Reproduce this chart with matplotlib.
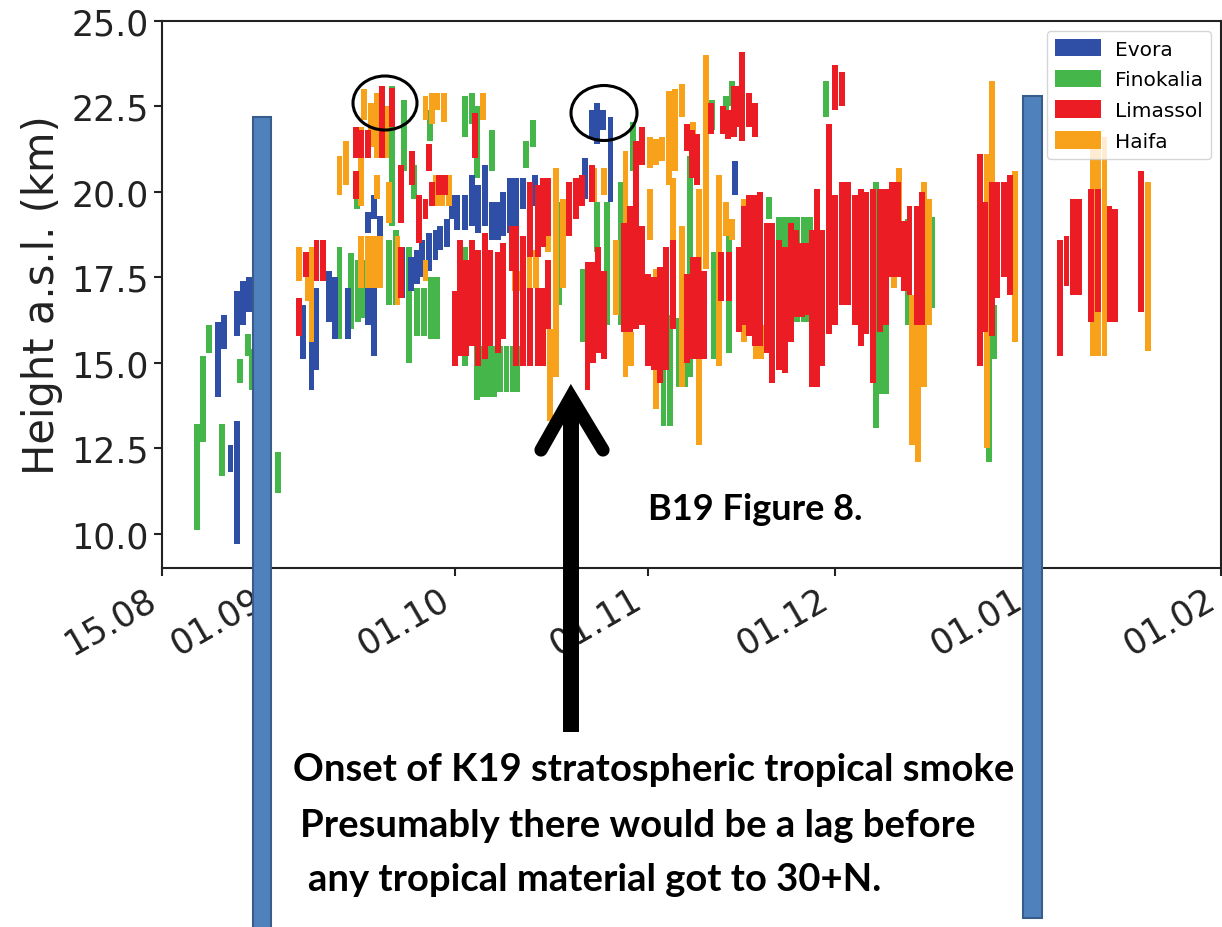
import numpy as np
import matplotlib
matplotlib.use("Agg")
import matplotlib.pyplot as plt
import matplotlib.dates as mdates
from matplotlib.patches import Rectangle, Ellipse, Patch
from matplotlib.lines import Line2D


# =========================================================
# DATA  (day = days since 15.08.2019, heights in km a.s.l.)
# =========================================================
evora_day = [9, 10, 11, 12, 12, 13, 14, 22.6, 24, 24.8, 26.8, 27.7, 29.8, 33, 34, 33, 34, 35,
             38.6, 39.9, 41, 41.8, 42.9, 43.9, 44.7, 45.7, 46.6, 47.4, 48.7, 49.7, 50.8, 51.9,
             53, 54, 54.8, 55.9, 56.9, 57.9, 59.9, 67.9, 69.1, 69.9, 70.8, 72, 92]
evora_lo = [14.0, 15.4, 11.8, 9.7, 15.8, 16.1, 16.5, 15.1, 14.2, 14.8, 16.2, 15.7, 15.7, 16.1, 15.2,
            18.8, 19.2, 18.7, 16.9, 17.1, 17.3, 17.5, 17.7, 18.0, 18.3, 18.4, 19.2, 18.9, 18.9,
            19.0, 18.8, 19.0, 18.6, 18.6, 18.7, 18.8, 19.0, 19.5, 19.6, 19.8, 21.55, 21.4, 21.8,
            19.7, 19.9]
evora_hi = [16.2, 16.4, 12.6, 13.3, 17.1, 17.4, 17.5, 16.7, 16.6, 17.2, 17.7, 17.5, 17.2, 17.5, 17.4,
            19.4, 19.9, 19.3, 18.4, 18.1, 18.3, 18.6, 18.8, 18.9, 19.0, 19.2, 19.9, 19.9, 19.9,
            20.5, 20.2, 20.8, 19.7, 19.7, 20.0, 20.4, 20.4, 20.4, 20.5, 21.0, 22.4, 22.6, 22.4,
            22.2, 20.9]

finokalia_day = [5.6, 6.6, 7.5, 9.6, 12.5, 13.8, 14.4, 18.6, 28.5, 30.4, 31.3, 31.5, 32.2, 36.4,
                 37.5, 36.9, 38.9, 40.5, 39.6, 41, 42, 43, 43.2, 44.2, 48.7, 49.7, 50.6, 48.7,
                 50.6, 53, 51.3, 52.3, 53.3, 54.3, 55.3, 56.3, 57, 58.5, 59.5, 63.8, 67.5, 69.9,
                 71.5, 73.6, 75.6, 80.5, 81.5, 82.4, 83, 84, 84.8, 88.3, 88.6, 90.5, 91, 91.5,
                 97.4, 99, 100, 101, 102, 103, 104, 106.6, 114.6, 115.5, 116.3, 119.7, 123.6,
                 132.7, 133.5]
finokalia_lo = [10.1, 12.7, 15.3, 11.7, 14.4, 15.2, 14.2, 11.2, 15.7, 16.0, 19.5, 16.2, 16.3, 16.7,
                16.7, 19.0, 20.6, 19.8, 15.0, 15.8, 15.8, 21.5, 15.7, 15.7, 21.6, 22.0, 20.4, 14.9,
                13.9, 20.6, 14.0, 14.0, 14.0, 14.15, 14.15, 14.15, 14.15, 20.7, 21.3, 16.7, 15.6,
                18.25, 16.1, 16.1, 20.6, 13.15, 13.15, 20.6, 14.3, 14.3, 14.6, 21.8, 15.1, 22.4,
                15.3, 22.5, 19.2, 18.6, 16.2, 16.2, 16.2, 16.2, 16.2, 22.2, 13.1, 14.1, 14.1, 16.1,
                16.6, 12.1, 15.1]
finokalia_hi = [13.2, 15.2, 16.1, 13.2, 15.1, 15.85, 15.4, 12.4, 18.4, 18.2, 20.5, 18.0, 18.0, 18.6,
                18.9, 23.1, 22.7, 20.8, 18.4, 17.2, 17.2, 22.4, 17.5, 17.5, 22.8, 22.9, 22.5, 18.4,
                16.9, 21.8, 15.5, 15.5, 15.5, 15.5, 15.5, 15.5, 15.5, 21.5, 22.1, 19.7, 17.75,
                19.7, 19.7, 20.3, 22.05, 16.4, 16.4, 21.3, 16.3, 16.3, 21.05, 22.7, 18.25, 22.8,
                18.7, 23.25, 19.85, 19.27, 19.27, 19.27, 19.27, 19.27, 19.27, 23.25, 20.3, 17.4,
                17.4, 19.2, 19.27, 20.3, 16.7]

limassol_day = [22, 23.1, 24.8, 25.8, 31.1, 31.1, 32, 33, 35.3, 36.9, 38.3, 38.3, 40.1, 41.2, 42.3,
                42.9, 43.4, 44.5, 45.5, 47, 47.8, 48.8, 49.8, 50.3, 50.8, 51.8, 52.6, 54, 54.8,
                56.1, 56.9, 57.9, 59.1, 59.1, 60.3, 60.3, 61.2, 61.2, 62, 62, 65.4, 66.4, 67.4,
                69.1, 68.3, 69.2, 70, 71, 74.2, 75.2, 76.1, 77.1, 77.1, 78, 79, 80, 80.9, 82.1,
                84.3, 84.3, 85.1, 85.9, 85.3, 86, 87, 88.1, 89.7, 90.1, 90.9, 91, 91.8, 92.6, 92.6,
                93.1, 93.4, 94.2, 94.2, 95.2, 95.2, 96, 97.1, 97.9, 99, 100, 101, 101.8, 102.7,
                103.5, 104.3, 105.1, 105.9, 107.1, 108, 108, 109.1, 109.1, 110.1, 111.2, 112.2,
                113, 114.1, 115.2, 116.2, 117.2, 118.2, 119.1, 120, 121.2, 122, 131.3, 132.1,
                133.2, 134.1, 135.1, 136.1, 144.1, 145.2, 146.3, 147.2, 149.2, 150.2, 152.1, 153,
                157.1]
limassol_lo = [15.8, 17.5, 17.4, 17.4, 21.0, 19.8, 21.0, 21.0, 21.0, 21.9, 19.1, 16.9, 20.2, 18.5,
               19.2, 20.6, 19.6, 19.9, 19.9, 14.9, 15.2, 15.2, 15.5, 21.0, 14.9, 15.1, 15.5, 15.3,
               15.7, 17.7, 14.9, 14.9, 18.1, 14.9, 18.1, 14.9, 18.4, 14.9, 18.7, 16.0, 18.7, 19.2,
               19.6, 19.7, 14.2, 15.0, 15.3, 15.1, 15.9, 15.9, 16.0, 20.8, 16.1, 14.9, 14.8, 14.4,
               14.8, 16.0, 21.2, 15.0, 20.4, 20.2, 15.1, 15.1, 15.1, 21.7, 16.8, 21.7, 21.55, 16.8,
               21.6, 21.9, 15.9, 21.5, 16.1, 21.9, 15.8, 21.6, 15.5, 15.5, 15.3, 14.4, 14.8, 14.7,
               15.6, 16.35, 16.35, 16.4, 14.3, 14.3, 14.9, 15.85, 16.1, 22.4, 22.5, 16.7, 16.7,
               16.1, 15.5, 15.85, 14.4, 15.9, 16.1, 17.5, 17.5, 17.1, 17.0, 16.1, 16.1, 14.9, 15.9,
               15.8, 16.9, 17.5, 17.0, 15.2, 17.25, 17.0, 17.0, 16.2, 16.5, 16.2, 16.2, 16.5]
limassol_hi = [16.9, 18.25, 18.6, 18.6, 21.9, 20.6, 21.8, 21.8, 23.1, 23.05, 20.8, 18.4, 21.2, 19.9,
               19.8, 21.4, 20.3, 20.5, 20.5, 17.1, 18.6, 18.0, 18.6, 22.3, 18.3, 18.8, 18.3, 18.25,
               18.5, 19.0, 19.0, 18.7, 20.3, 17.2, 20.2, 17.2, 20.4, 17.2, 20.4, 18.0, 20.3, 20.4,
               20.5, 20.8, 17.95, 17.95, 18.4, 17.7, 19.1, 19.6, 21.5, 21.9, 19.0, 17.6, 17.5, 17.8,
               18.4, 18.6, 22.0, 17.6, 21.8, 21.7, 18.1, 18.1, 17.7, 22.6, 18.25, 22.5, 22.4, 18.25,
               23.1, 23.1, 18.4, 24.1, 19.6, 22.9, 19.9, 22.6, 19.9, 20.0, 19.1, 19.1, 18.6, 18.4,
               19.1, 18.9, 18.5, 18.5, 18.9, 20.1, 18.9, 22.0, 19.9, 23.7, 23.5, 20.3, 20.3, 19.9,
               20.1, 20.0, 20.1, 20.1, 20.1, 20.3, 20.3, 19.15, 19.6, 19.6, 20.0, 21.1, 19.7, 20.3,
               20.3, 20.3, 20.5, 18.6, 18.7, 19.8, 19.8, 20.1, 20.1, 19.6, 19.5, 20.6]

haifa_day = [22, 23.5, 24, 28.5, 29.5, 31.9, 32.5, 33.5, 34.5, 32, 33, 34, 35, 34.5, 36, 36.4, 37.8,
             42.3, 42.3, 43.4, 44.2, 45.2, 44, 45, 46, 51.5, 56.6, 57.5, 59, 60, 62, 62.3, 63.3,
             64.4, 69.4, 71, 72.9, 74.4, 75.3, 78.4, 78.4, 79.3, 79.3, 80.3, 81.4, 82.1, 82.4,
             83.5, 83.5, 85.3, 86.2, 87.3, 89.4, 90.5, 91.5, 93.4, 95.3, 96.2, 117.5, 118.3,
             120.4, 121.3, 122.3, 123.1, 132.4, 133.3, 136.9, 149.4, 150.2, 151.3, 158.3]
haifa_lo = [17.4, 16.8, 15.6, 19.9, 20.2, 19.6, 22.1, 21.3, 21.0, 17.2, 17.2, 17.2, 17.2, 19.8, 21.0,
            19.1, 16.7, 22.1, 17.4, 22.0, 22.4, 22.05, 19.6, 19.6, 19.6, 22.1, 17.1, 17.1, 17.2,
            17.2, 18.25, 13.3, 14.6, 17.2, 19.7, 19.9, 16.4, 14.6, 14.9, 20.7, 18.6, 20.8, 13.65,
            20.9, 20.2, 16.1, 20.6, 22.2, 14.3, 21.6, 12.6, 17.75, 14.9, 18.7, 18.6, 15.6, 15.1,
            15.1, 17.2, 17.8, 12.6, 12.1, 14.3, 16.1, 12.5, 20.3, 15.6, 15.2, 15.2, 15.2, 15.35]
haifa_hi = [18.4, 17.7, 18.4, 21.05, 21.5, 21.9, 23.0, 22.6, 22.9, 18.7, 18.7, 18.7, 18.7, 20.5,
            22.5, 20.3, 18.7, 22.8, 18.0, 22.9, 22.9, 22.9, 20.5, 20.5, 20.5, 22.9, 17.7, 17.7,
            18.3, 18.3, 19.2, 16.0, 20.7, 19.8, 20.7, 20.7, 18.6, 21.2, 15.9, 21.6, 20.1, 21.55,
            17.75, 21.6, 22.95, 20.4, 23.0, 23.15, 19.0, 22.05, 20.1, 24.0, 20.5, 19.7, 19.2,
            19.8, 16.1, 16.1, 17.75, 20.7, 17.0, 16.7, 20.3, 19.8, 21.1, 23.25, 20.6, 21.6, 21.6,
            21.6, 20.3]

stations = ["Evora", "Finokalia", "Limassol", "Haifa"]
tick_dates = ["2019-08-15", "2019-09-01", "2019-10-01", "2019-11-01",
              "2019-12-01", "2020-01-01", "2020-02-01"]
start_date = "2019-08-15"

colors = {"Evora": "#2f4fa6", "Finokalia": "#45b649", "Limassol": "#ec1c24", "Haifa": "#f8a21c"}
series = {
    "Evora": (evora_day, evora_lo, evora_hi),
    "Finokalia": (finokalia_day, finokalia_lo, finokalia_hi),
    "Limassol": (limassol_day, limassol_lo, limassol_hi),
    "Haifa": (haifa_day, haifa_lo, haifa_hi),
}
draw_order = ["Finokalia", "Evora", "Haifa", "Limassol"]

# =========================================================
# FIGURE
# =========================================================
W, H = 1222, 928
fig = plt.figure(figsize=(W / 100, H / 100), dpi=100)
ax = fig.add_axes([162 / W, 1 - 569 / H, (1221 - 162) / W, (569 - 22) / H])

t0 = mdates.date2num(np.datetime64(start_date))
for z, name in enumerate(draw_order):
    d, lo, hi = series[name]
    x = t0 + np.array(d)
    lo = np.array(lo)
    hi = np.array(hi)
    ax.bar(x, hi - lo, bottom=lo, width=0.95, color=colors[name], linewidth=0, zorder=2 + z)

ax.set_xlim(mdates.date2num(np.datetime64(tick_dates[0])), mdates.date2num(np.datetime64(tick_dates[-1])))
ax.set_ylim(9, 25)
ax.set_yticks([10, 12.5, 15, 17.5, 20, 22.5, 25])
ax.yaxis.set_major_formatter(matplotlib.ticker.FormatStrFormatter("%.1f"))
ax.set_xticks([mdates.date2num(np.datetime64(t)) for t in tick_dates])
ax.xaxis.set_major_formatter(mdates.DateFormatter("%d.%m"))
ax.tick_params(labelsize=25, length=6, width=1.5, colors="#222222")
for lab in ax.get_xticklabels():
    lab.set_rotation(30)
    lab.set_ha("right")
for sp in ax.spines.values():
    sp.set_linewidth(1.5)
    sp.set_color("#222222")
ax.set_ylabel("Height a.s.l. (km)", fontsize=30, color="#222222", labelpad=6)

handles = [Patch(facecolor=colors[s], edgecolor="none") for s in stations]
leg = ax.legend(handles, stations, loc="upper right", fontsize=14.5, handlelength=2.25,
                handleheight=0.95, labelspacing=0.55, handletextpad=0.7, borderpad=0.4)
leg.set_zorder(20)


# =========================================================
# OVERLAY ANNOTATIONS (figure pixel coordinates)
# =========================================================
def fx(x):
    return x / W


def fy(y):
    return 1 - y / H


bar_face = "#4f81bd"
bar_edge = "#385d8a"
for x0, x1, y0, y1 in [(253, 271, 118, 940), (1023, 1042, 97, 919)]:
    fig.add_artist(Rectangle((fx(x0), fy(y1)), fx(x1) - fx(x0), fy(y0) - fy(y1),
                             transform=fig.transFigure, facecolor=bar_face,
                             edgecolor=bar_edge, linewidth=1.5, zorder=30))

for cx, cy, w, h in [(385, 104, 64, 54), (604, 114, 66, 55)]:
    fig.add_artist(Ellipse((fx(cx), fy(cy)), w / W, h / H, transform=fig.transFigure,
                           facecolor="none", edgecolor="black", linewidth=2.2, zorder=31))

# arrow
fig.add_artist(Line2D([fx(571), fx(571)], [fy(733), fy(400)], transform=fig.transFigure,
                      color="black", linewidth=11.5, solid_capstyle="butt", zorder=31))
fig.add_artist(Line2D([fx(541), fx(571), fx(603)], [fy(451), fy(398), fy(451)],
                      transform=fig.transFigure, color="black", linewidth=9.5,
                      solid_capstyle="round", solid_joinstyle="miter", zorder=31))

txt_font = dict(family=["Lato", "DejaVu Sans"], weight="bold", color="black", zorder=32)
fig.text(fx(648), fy(520), "B19 Figure 8.", fontsize=26, va="baseline", ha="left", **txt_font)
fig.text(fx(293), fy(770), "Onset of K19 stratospheric tropical smoke", fontsize=27.5,
         va="center", ha="left", **txt_font)
fig.text(fx(300), fy(826), "Presumably there would be a lag before", fontsize=27.5,
         va="center", ha="left", **txt_font)
fig.text(fx(308), fy(880), "any tropical material got to 30+N.", fontsize=27.5,
         va="center", ha="left", **txt_font)

fig.savefig("out.png", dpi=100)
